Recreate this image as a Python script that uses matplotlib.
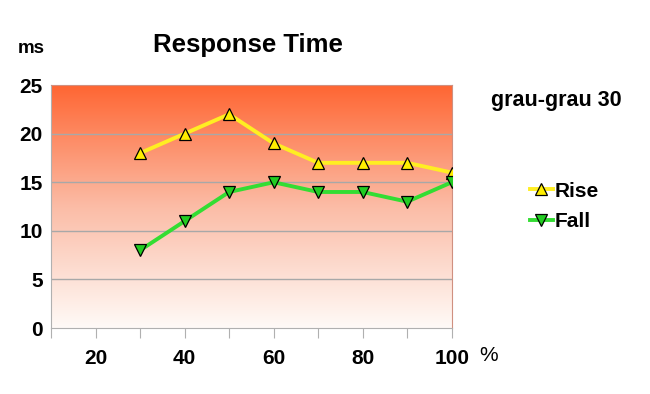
import numpy as np
import matplotlib.pyplot as plt
from matplotlib.colors import LinearSegmentedColormap

plt.rcParams['font.family'] = ['Liberation Sans', 'DejaVu Sans']
plt.rcParams['font.weight'] = 'bold'

# data
percent = [30, 40, 50, 60, 70, 80, 90, 100]
rise = [18, 20, 22, 19, 17, 17, 17, 16]
fall = [8, 11, 14, 15, 14, 14, 13, 15]
x_ticks = [20, 40, 60, 80, 100]
y_ticks = [0, 5, 10, 15, 20, 25]

fig = plt.figure(figsize=(6.5, 3.94), dpi=100)
ax = fig.add_axes([0.0785, 0.1675, 0.6165, 0.6165])

# gradient background, orange at top fading to white
grad = np.linspace(0, 1, 256).reshape(-1, 1)
cmap = LinearSegmentedColormap.from_list('bg', ['#FFFAF7', '#FBBCA6', '#FF6633'])
ax.imshow(grad, extent=[10, 100, 0, 25], origin='lower', aspect='auto',
          cmap=cmap, zorder=0)

for yv in y_ticks[1:-1]:
    ax.axhline(yv, color='#a8a8a8', linewidth=1.0, zorder=1)

ax.plot(percent, rise, color='#FFEE22', linewidth=2.8, marker='^', markersize=8,
        markerfacecolor='#FFEE00', markeredgecolor='black', markeredgewidth=0.9,
        label='Rise', zorder=3)
ax.plot(percent, fall, color='#33DD33', linewidth=2.8, marker='v', markersize=8,
        markerfacecolor='#22CC22', markeredgecolor='black', markeredgewidth=0.9,
        label='Fall', zorder=3)

ax.set_xlim(10, 100)
ax.set_ylim(0, 25)
ax.set_xticks(np.arange(10, 101, 10))
ax.set_xticklabels(['' if v not in x_ticks else str(v) for v in range(10, 101, 10)])
ax.set_yticks(y_ticks)
ax.tick_params(axis='x', length=7, color='#b0b0b0', labelsize=15, pad=8)
ax.tick_params(axis='y', length=0, labelsize=15, pad=6)

for side in ['left', 'bottom']:
    ax.spines[side].set_color('#b0b0b0')
for side in ['top', 'right']:
    ax.spines[side].set_color('#d09080')

fig.text(0.381, 0.885, 'Response Time', fontsize=18.5, ha='center', va='center')
fig.text(0.048, 0.878, 'ms', fontsize=13.5, ha='center', va='center')
fig.text(0.856, 0.745, 'grau-grau 30', fontsize=15.5, ha='center', va='center')
fig.text(0.751, 0.097, '%', fontsize=15, ha='center', va='center', weight='normal')

fig.legend(loc='center left', bbox_to_anchor=(0.786, 0.476), frameon=False,
           fontsize=15, handlelength=1.1, handletextpad=0.1, labelspacing=0.55)

fig.savefig('out.png', dpi=100)
